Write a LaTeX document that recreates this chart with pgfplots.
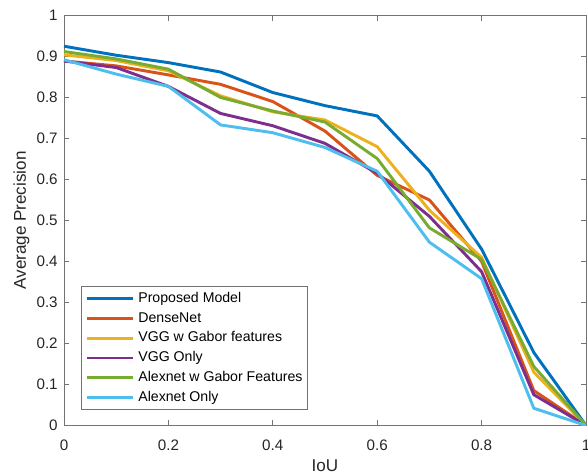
\documentclass[border=0pt]{standalone}
\usepackage{pgfplots}
\pgfplotsset{compat=1.18}
\usepackage{fontspec}
\setmainfont{Liberation Sans}
\definecolor{mblue}{rgb}{0,0.447,0.741}
\definecolor{mred}{rgb}{0.85,0.325,0.098}
\definecolor{myellow}{rgb}{0.929,0.694,0.125}
\definecolor{mpurple}{rgb}{0.494,0.184,0.556}
\definecolor{mgreen}{rgb}{0.466,0.674,0.188}
\definecolor{mcyan}{rgb}{0.301,0.745,0.933}
\definecolor{axgray}{RGB}{38,38,38}
\begin{document}
\begin{tikzpicture}
\useasboundingbox (-48pt,-36.4pt) rectangle (393pt,319.1pt);
\begin{axis}[
    name=ax, at={(0,0)}, anchor=south west,
    scale only axis,
    width=391.5pt, height=307.5pt,
    xmin=0, xmax=1, ymin=0, ymax=1,
    xtick={0,0.2,...,1}, ytick={0,0.1,...,1},
    tick align=inside,
    major tick length=4pt,
    axis line style={black!55, line width=0.6pt},
    every tick/.style={black!55, line width=0.6pt},
    tick label style={font=\fontsize{11.4}{13}\selectfont, text=axgray},
    xticklabel style={anchor=base, yshift=-19pt},
    yticklabel style={xshift=-1.2pt},
    /pgf/number format/assume math mode=true,
    xlabel={IoU}, ylabel={Average Precision},
    label style={font=\fontsize{12.8}{15}\selectfont, text=axgray},
    xlabel style={at={(axis description cs:0.5,-0.1125)}, anchor=base},
    ylabel style={at={(axis description cs:-0.0728,0.5)}, anchor=base, rotate=0},
    legend style={at={(0.0326,0.038)}, anchor=south west,
        draw=black!55, line width=0.6pt,
        font=\fontsize{10.6}{12}\selectfont, text=black,
        inner sep=2.75pt, row sep=2.3pt, column sep=1.75pt,
        nodes={inner sep=1pt, text height=8pt, text depth=2.5pt}},
    legend cell align=left,
    legend image code/.code={\draw[#1, line width=2.2pt] (0pt,0pt) -- (35pt,0pt);},
    every axis plot/.append style={line width=2.2pt, line join=round},
]
\addplot[mblue] coordinates {
    (0,0.925) (0.1,0.903) (0.2,0.885) (0.3,0.862) (0.4,0.812) (0.5,0.780)
    (0.6,0.755) (0.7,0.620) (0.8,0.430) (0.9,0.178) (1,0)};
\addlegendentry{Proposed Model}
\addplot[mred] coordinates {
    (0,0.889) (0.1,0.877) (0.2,0.855) (0.3,0.832) (0.4,0.790) (0.5,0.718)
    (0.6,0.610) (0.7,0.550) (0.8,0.400) (0.9,0.085) (1,0)};
\addlegendentry{DenseNet}
\addplot[myellow] coordinates {
    (0,0.904) (0.1,0.890) (0.2,0.865) (0.3,0.804) (0.4,0.765) (0.5,0.745)
    (0.6,0.680) (0.7,0.525) (0.8,0.410) (0.9,0.130) (1,0)};
\addlegendentry{VGG w Gabor features}
\addplot[mpurple] coordinates {
    (0,0.889) (0.1,0.873) (0.2,0.827) (0.3,0.761) (0.4,0.731) (0.5,0.688)
    (0.6,0.615) (0.7,0.510) (0.8,0.375) (0.9,0.075) (1,0)};
\addlegendentry{VGG Only}
\addplot[mgreen] coordinates {
    (0,0.912) (0.1,0.894) (0.2,0.869) (0.3,0.800) (0.4,0.767) (0.5,0.740)
    (0.6,0.651) (0.7,0.482) (0.8,0.405) (0.9,0.144) (1,0)};
\addlegendentry{Alexnet w Gabor Features}
\addplot[mcyan] coordinates {
    (0,0.892) (0.1,0.857) (0.2,0.827) (0.3,0.733) (0.4,0.714) (0.5,0.678)
    (0.6,0.620) (0.7,0.447) (0.8,0.358) (0.9,0.042) (1,0)};
\addlegendentry{Alexnet Only}
\end{axis}
\end{tikzpicture}
\end{document}
